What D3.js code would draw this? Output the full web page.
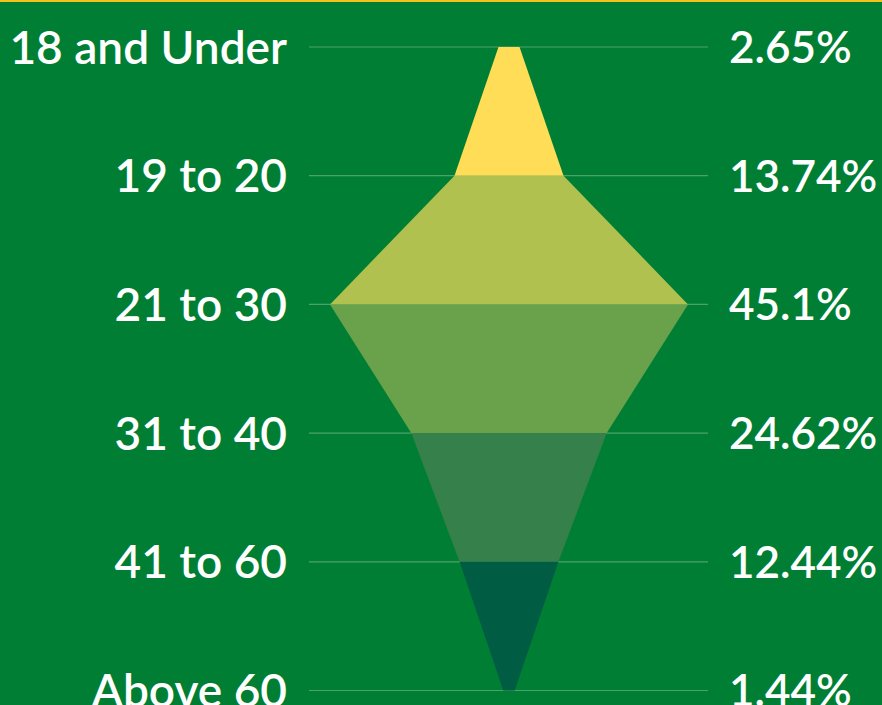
<!DOCTYPE html>
<html><head><meta charset="utf-8">
<script src="https://cdn.jsdelivr.net/npm/d3@7"></script>
<style>html,body{margin:0;padding:0;background:#007F34;}svg{display:block;}</style>
</head><body>
<script>
const categories = ["18 and Under","19 to 20","21 to 30","31 to 40","41 to 60","Above 60"];
const values = [2.65, 13.74, 45.1, 24.62, 12.44, 1.44];
const valueLabels = ["2.65%","13.74%","45.1%","24.62%","12.44%","1.44%"];
const bandColors = ["#FFDD57","#B0C150","#6AA14B","#36804C","#005C42"];

const W = 882, H = 705;
const svg = d3.select("body").append("svg").attr("width", W).attr("height", H);
svg.append("rect").attr("width", W).attr("height", H).attr("fill", "#007F34");
svg.append("rect").attr("width", W).attr("height", 2).attr("fill", "#F2C318");

const y = d3.scalePoint().domain(categories).range([47, 690.5]);
const cx = 509;
const w = d3.scaleLinear().domain([0, 45.1]).range([0, 179]);

// gridlines
svg.append("g").selectAll("line").data(categories).join("line")
  .attr("x1", 309).attr("x2", 708)
  .attr("y1", d => y(d)).attr("y2", d => y(d))
  .attr("stroke", "#4FA06B").attr("stroke-width", 1.2);

// bands
const bands = d3.range(values.length - 1);
svg.append("g").selectAll("path").data(bands).join("path")
  .attr("fill", i => bandColors[i])
  .attr("d", i => {
    const y0 = y(categories[i]), y1 = y(categories[i+1]);
    const a = w(values[i]), b = w(values[i+1]);
    return d3.line()([[cx - a, y0], [cx + a, y0], [cx + b, y1], [cx - b, y1]]) + "Z";
  });

const font = "Lato, 'Open Sans', sans-serif";
svg.append("g").selectAll("text").data(categories).join("text")
  .attr("x", 287).attr("y", d => y(d)).attr("dy", "0.36em")
  .attr("text-anchor", "end").attr("fill", "#fff")
  .style("font-family", font).style("font-size", "46px").style("font-weight", 600)
  .text(d => d);

svg.append("g").selectAll("text").data(valueLabels).join("text")
  .attr("x", 729).attr("y", (d, i) => y(categories[i])).attr("dy", "0.36em")
  .attr("text-anchor", "start").attr("fill", "#fff")
  .style("font-family", font).style("font-size", "44px").style("font-weight", 600)
  .text(d => d);
</script>
</body></html>
